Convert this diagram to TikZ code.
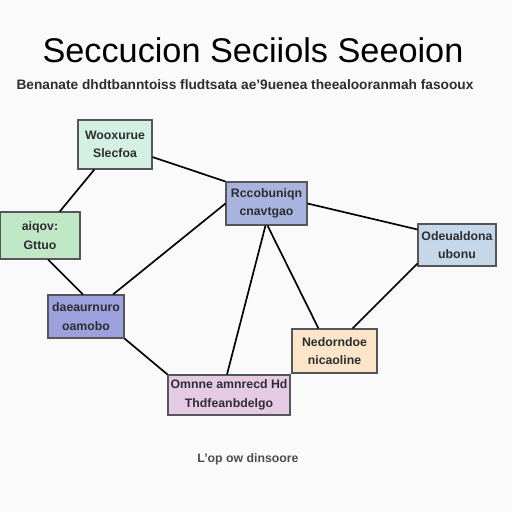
\documentclass[tikz,border=0pt]{standalone}
\usepackage{fontspec}
\setmainfont{Liberation Sans}
\usepackage{tikz}
\usetikzlibrary{positioning, calc}

\definecolor{bgwhite}{RGB}{250, 250, 250}
\definecolor{boxline}{RGB}{85, 85, 90}
\definecolor{boxtext}{RGB}{45, 45, 50}
\definecolor{mintgreen}{RGB}{212, 240, 226}
\definecolor{leafgreen}{RGB}{192, 231, 198}
\definecolor{slateblue}{RGB}{168, 180, 222}
\definecolor{skyblue}{RGB}{198, 215, 234}
\definecolor{violet1}{RGB}{156, 160, 220}
\definecolor{peach}{RGB}{252, 229, 200}
\definecolor{lilac}{RGB}{229, 202, 228}

\tikzset{
  secbox/.style={draw=boxline, line width=0.6pt, inner sep=0pt, align=center,
    text=boxtext, font=\fontsize{7}{10.5}\selectfont\bfseries},
  link/.style={line width=0.95pt, black}
}

\begin{document}
\begin{tikzpicture}[x=0.02cm, y=-0.02cm]
  \fill[bgwhite] (0, 0) rectangle (512, 512);
  \useasboundingbox (0, 0) rectangle (512, 512);

  % Title and subtitle
  \node[font=\fontsize{19.5}{22}\selectfont] (title) at (253, 50) {Seccucion Seciiols Seeoion};
  \node[font=\fontsize{7.8}{9}\selectfont\bfseries, text=boxtext] (subtitle) at (245, 85)
    {Benanate dhdtbanntoiss fludtsata ae'9uenea theealooranmah fasooux};

  % Section boxes
  \node[secbox, fill=mintgreen, minimum width=1.48cm, minimum height=0.98cm] (tl) at (115, 144.5) {Wooxurue\\Slecfoa};
  \node[secbox, fill=leafgreen, minimum width=1.6cm, minimum height=0.94cm] (gl) at (40, 235.5) {aiqov:\\Gttuo};
  \node[secbox, fill=slateblue, minimum width=1.62cm, minimum height=0.86cm] (bc) at (266.5, 203.5) {Rccobuniqn\\cnavtgao};
  \node[secbox, fill=skyblue, minimum width=1.56cm, minimum height=0.84cm] (lb) at (457, 245) {Odeualdona\\ubonu};
  \node[secbox, fill=violet1, minimum width=1.52cm, minimum height=0.86cm] (pu) at (86, 316.5) {daeaurnuro\\oamobo};
  \node[secbox, fill=peach, minimum width=1.7cm, minimum height=0.88cm] (or) at (334.5, 351) {Nedorndoe\\nicaoline};
  \node[secbox, fill=lilac, minimum width=2.44cm, minimum height=0.8cm] (pk) at (229, 395) {Omnne amnrecd Hd\\Thdfeanbdelgo};

  % Caption
  \node[font=\fontsize{7}{8}\selectfont\bfseries, text=boxtext!85] (caption) at (248, 459) {L'op ow dinsoore};

  % Links
  \draw[link] (tl) -- (bc.north west);
  \draw[link] (tl) -- (gl);
  \draw[link] ($(gl.south)+(8, 0)$) -- ($(pu.north)+(-3, 0)$);
  \draw[link] ($(pu.north)+(27, 0)$) -- (bc.west);
  \draw[link] (pu.south east) -- (pk.north west);
  \draw[link] ($(bc.south)+(-1, 0)$) -- ($(pk.north)+(-2, 0)$);
  \draw[link] ($(bc.south)+(1, 0)$) -- ($(or.north)+(-16, 0)$);
  \draw[link] (bc.east) -- ($(lb.north west)+(0, 6)$);
  \draw[link] ($(lb.south west)+(0, -3)$) -- ($(or.north)+(18, 0)$);
\end{tikzpicture}
\end{document}
